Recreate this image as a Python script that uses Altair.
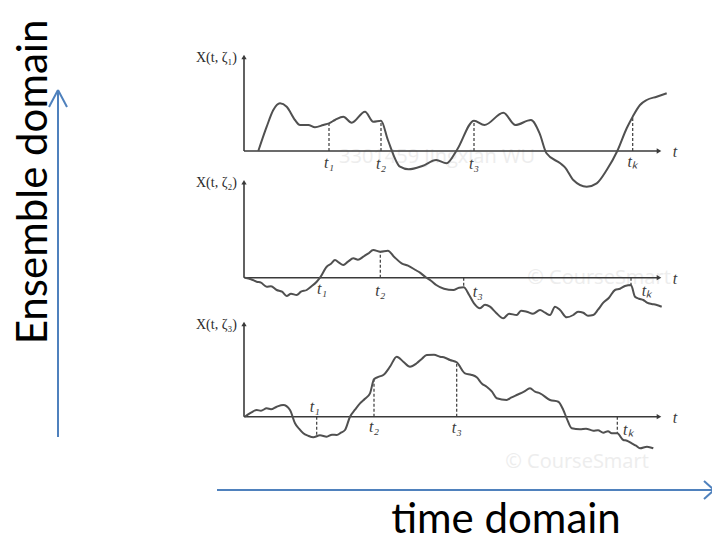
import altair as alt
import pandas as pd
import numpy as np

# ---------------- data ----------------
# sample path 1: X(t, zeta1)
path1_t = [14.3, 22.7, 29.3, 36, 42.7, 51, 56, 64.3, 71, 79.3, 85, 91, 99.3, 107.7, 121, 129.3, 137,
           143.9, 156, 164.5, 178.3, 192.2, 202.5, 212.9, 230, 240.4, 259.4, 271.4, 286.9, 295.6,
           302.5, 316.3, 321, 329.3, 342.7, 352.7, 362.7, 373.3, 382.7, 388.7, 396, 402.7, 412.7, 422.7]
path1_x = [0, 24.3, 41, 47.7, 44.3, 31, 26, 26, 23.7, 26, 27.7, 31, 34.3, 28.3, 39.3, 29.3, 30.3,
           11, -15.7, -18.3, -15, -9, -12.3, 1, 30.3, 26, 38.3, 26, 31, 17.7,
           -2.3, -12.3, -16.3, -29, -35.7, -32.3, -19, 0, 22.7, 34.3, 46, 51, 54.3, 57.7]

# sample path 2: X(t, zeta2)
path2_t = [1, 7, 12.7, 17, 22.7, 27, 32.7, 38, 42.7, 47, 52.7, 57, 62.7, 67, 72.7, 76, 82.7, 87, 91, 95,
           99.3, 104, 109.3, 114, 119.3, 124, 129.3, 136.3, 143.9, 150, 157.6, 164, 171.5, 176,
           181.8, 187, 192.2, 200, 209.4, 215, 219.7, 225, 230, 236, 241, 246, 252, 259.3, 265,
           272.7, 277, 282.7, 289, 296, 301, 306, 311, 316, 322.7, 329.3, 334, 339.3, 344, 349.3,
           354, 359.3, 365, 371, 376, 381, 387, 391, 395, 399.3, 403, 407.7, 412, 417.7]
path2_x = [0, -1.5, -4, -5, -9, -8.5, -12.3, -14, -18.3, -16, -17.3, -14, -12.3, -9, -4, 0, 11, 14, 17.7, 15,
           12.7, 16, 19.4, 18, 21, 24, 27.7, 26, 27, 21, 14.4, 12, 7.7, 5,
           0.4, -3, -7.3, -11, -12.3, -10, -9.6, -17, -25.6, -30.6, -27, -29, -35, -40.6, -36,
           -37.3, -33, -34, -36, -32.3, -35, -37.3, -29, -32.3, -39.6, -37.3, -34, -35, -38, -37.3,
           -32, -25, -20, -12.3, -11, -8.3, -7.3, -19, -21, -22.3, -25, -26.3, -27, -29]

# sample path 3: X(t, zeta3)
path3_t = [1, 7, 12.7, 17, 22.7, 27, 32.7, 39.3, 46, 51, 55, 59.3, 64, 69.3, 76, 82.7, 88, 92.7, 97, 101,
           106, 111, 116, 121, 126, 130, 135, 139.3, 146, 152.7, 159.3, 166, 172.7, 178, 182.7,
           190, 196, 201, 206, 212.7, 221, 227, 232.7, 238, 242.7, 248, 252.7, 262.7, 267, 272.7,
           280, 286, 291, 296, 306, 314.3, 319.3, 322.7, 327.7, 336, 342, 349.3, 354, 359.3, 364,
           367.7, 373.3, 379.3, 383, 387.7, 392, 396, 403, 409.3]
path3_x = [0, 4, 6.7, 6, 8.4, 7.5, 10, 11.7, 6.7, -6.6, -12, -16.6, -19, -20.6, -18.5, -20, -18, -18.3, -16, -13.3,
           0, 7, 13.4, 18, 23.4, 37.4, 40, 41.7, 50, 60, 55, 50, 53.4, 58, 61.7,
           62, 60, 59, 56.7, 54.4, 43.4, 42, 39.4, 33, 30, 25, 18.4, 16.7, 19, 21.7,
           25, 28.4, 25, 23.4, 16.7, 15, 6.7, -1.6, -11.6, -12.6, -12, -14, -13.5, -16, -14.5,
           -16.6, -16.6, -23.3, -24, -26.6, -29, -31.6, -30, -31.6]

panel_names = ["ζ₁", "ζ₂", "ζ₃"]
marker_names = ["t₁", "t₂", "t₃", "tₖ"]
# time instants t1, t2, t3, tk marked in each panel
marker_t = [[85, 137, 230, 388.7],
            [76, 136.3, 219.7, 387],
            [72.7, 130, 212.7, 373.3]]

# ---------------- layout (positions in the drawing) ----------------
baseline = [389, 262.3, 123.3]     # vertical position of each t-axis
axis_top = [487, 361.7, 220]       # top of each X axis
axis_end = 419                     # length of the t axis
# label offsets for t1..tk per panel (dx, dy relative to dash foot)
label_off = [[(0, -12), (0, -13), (0, -13), (0, -11)],
             [(2, -11), (0, -13), (14, -14), (16, -13)],
             [(-2, 10), (0, -10), (0, -11), (11, -13)]]

paths = [(path1_t, path1_x), (path2_t, path2_x), (path3_t, path3_x)]

curve_rows = []
for i, (tt, xx) in enumerate(paths):
    for a, b in zip(tt, xx):
        curve_rows.append({"panel": i, "t": a, "y": baseline[i] + b})
curves = pd.DataFrame(curve_rows)

axis_rows, dash_rows, lab_rows, tri_up, tri_right, ylab_rows = [], [], [], [], [], []
for i in range(3):
    axis_rows.append({"x": 0, "x2": axis_end - 4, "y": baseline[i], "y2": baseline[i]})
    axis_rows.append({"x": 0, "x2": 0, "y": baseline[i], "y2": axis_top[i] - 4})
    tri_up.append({"x": 0, "y": axis_top[i] - 4})
    tri_right.append({"x": axis_end - 4, "y": baseline[i]})
    tt, xx = paths[i]
    for j, m in enumerate(marker_t[i]):
        v = float(np.interp(m, tt, xx))
        dash_rows.append({"x": m, "y": baseline[i], "y2": baseline[i] + v})
        dx, dy = label_off[i][j]
        lab_rows.append({"x": m + dx, "y": baseline[i] + dy, "text": marker_names[j]})
    ylab_rows.append({"x": -7, "y": axis_top[i] - 5, "text": f"X(t, {panel_names[i]})"})
    lab_rows.append({"x": axis_end + 12, "y": baseline[i] - 1, "text": "t"})

axes_df = pd.DataFrame(axis_rows)
dash_df = pd.DataFrame(dash_rows)
lab_df = pd.DataFrame(lab_rows)
ylab_df = pd.DataFrame(ylab_rows)
up_df = pd.DataFrame(tri_up)
right_df = pd.DataFrame(tri_right)

# big blue arrows (ensemble / time direction)
blue_rules = pd.DataFrame([
    {"x": -186, "x2": -186, "y": 103, "y2": 450},     # vertical shaft
    {"x": -186, "x2": -195, "y": 450, "y2": 433},     # chevron left
    {"x": -186, "x2": -177, "y": 450, "y2": 433},     # chevron right
    {"x": -27, "x2": 470, "y": 50, "y2": 50},         # horizontal shaft
    {"x": 470, "x2": 460, "y": 50, "y2": 59},
    {"x": 470, "x2": 460, "y": 50, "y2": 41},
])
big_text = pd.DataFrame([{"x": 262, "y": 7, "text": "time domain"}])
ens_text = pd.DataFrame([{"x": -210, "y": 358, "text": "Ensemble domain"}])
wm_df = pd.DataFrame([
    {"x": 193, "y": 383, "text": "3301459  Jingxian WU"},
    {"x": 355, "y": 262, "text": "© CourseSmart"},
    {"x": 333, "y": 78, "text": "© CourseSmart"},
])

xs = alt.Scale(domain=[-236, 468])
ys = alt.Scale(domain=[0, 532])
X = lambda f="x": alt.X(f, type="quantitative", scale=xs, axis=None)
Y = lambda f="y": alt.Y(f, type="quantitative", scale=ys, axis=None)

wm = alt.Chart(wm_df).mark_text(font="Open Sans", fontSize=20, color="#ededed",
                                 align="center", baseline="middle").encode(X(), Y(), text="text:N")

curve_layer = alt.Chart(curves).mark_line(color="#505050", strokeWidth=2, interpolate="monotone").encode(
    x=alt.X("t:Q", scale=xs, axis=None), y=alt.Y("y:Q", scale=ys, axis=None), detail="panel:N")

axes_layer = alt.Chart(axes_df).mark_rule(color="#3a3a3a", strokeWidth=1.6).encode(
    X(), Y(), x2="x2:Q", y2="y2:Q")
up_layer = alt.Chart(up_df).mark_point(shape="triangle-up", filled=True, color="#3a3a3a", size=28, opacity=1).encode(X(), Y())
right_layer = alt.Chart(right_df).mark_point(shape="triangle-right", filled=True, color="#3a3a3a", size=28, opacity=1).encode(X(), Y())

dash_layer = alt.Chart(dash_df).mark_rule(color="#3a3a3a", strokeWidth=1.2, strokeDash=[3, 2]).encode(
    X(), Y(), y2="y2:Q")

lab_layer = alt.Chart(lab_df).mark_text(font="Liberation Serif", fontStyle="italic", fontSize=16,
                                       color="#3a3a3a", align="center", baseline="middle").encode(
    X(), Y(), text="text:N")
ylab_layer = alt.Chart(ylab_df).mark_text(font="Liberation Serif", fontSize=14, color="#2a2a2a",
                                         align="right", baseline="middle").encode(X(), Y(), text="text:N")

blue_layer = alt.Chart(blue_rules).mark_rule(color="#4f81bd", strokeWidth=2).encode(
    X(), Y(), x2="x2:Q", y2="y2:Q")

time_layer = alt.Chart(big_text).mark_text(font="Lato", fontSize=42, color="#000000",
                                           align="center", baseline="alphabetic").encode(
    X(), Y(), text="text:N")
ens_layer = alt.Chart(ens_text).mark_text(font="Lato", fontSize=42, color="#000000", angle=270,
                                          align="center", baseline="middle").encode(
    X(), Y(), text="text:N")

chart = alt.layer(
    wm, blue_layer, axes_layer, up_layer, right_layer, dash_layer, curve_layer,
    lab_layer, ylab_layer, time_layer, ens_layer
).properties(
    width=704, height=532, padding=0,
    autosize=alt.AutoSizeParams(type="none")
).configure_view(stroke=None)

chart.save("out.html", embed_options={"renderer": "svg", "actions": False})
